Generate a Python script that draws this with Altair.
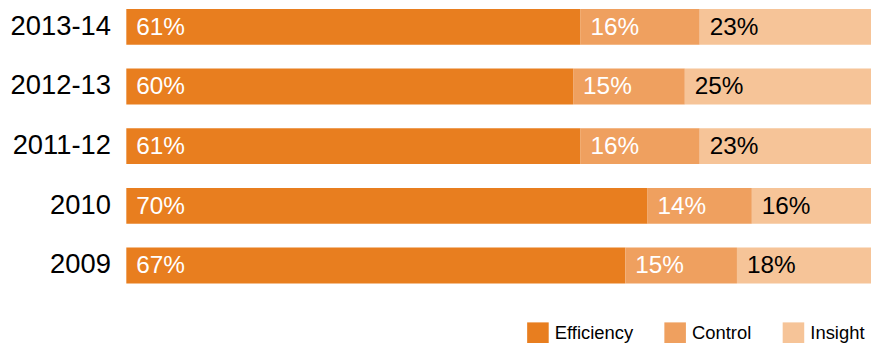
import altair as alt
import pandas as pd

years = ["2013-14", "2012-13", "2011-12", "2010", "2009"]
categories = ["Efficiency", "Control", "Insight"]
efficiency = [61, 60, 61, 70, 67]
control = [16, 15, 16, 14, 15]
insight = [23, 25, 23, 16, 18]
colors = ["#E87E1F", "#EFA05F", "#F6C498"]

rows = []
for i, y in enumerate(years):
    for j, (c, vals) in enumerate(zip(categories, [efficiency, control, insight])):
        rows.append({"year": y, "category": c, "order": j, "value": vals[i]})
df = pd.DataFrame(rows)

FONT = "Liberation Sans"

base = alt.Chart(df).transform_stack(
    stack="value", as_=["x0", "x1"], groupby=["year"],
    sort=[alt.SortField("order", order="ascending")]
)

y_enc = alt.Y("year:N", sort=years, title=None,
              scale=alt.Scale(paddingInner=0.4, paddingOuter=0),
              axis=alt.Axis(domain=False, ticks=False, labelFontSize=27.5,
                            labelColor="#000", labelFont=FONT, labelPadding=16))

bars = base.mark_bar().encode(
    y=y_enc,
    x=alt.X("x0:Q", scale=alt.Scale(domain=[0, 100]), axis=None),
    x2="x1:Q",
    color=alt.Color("category:N",
                    scale=alt.Scale(domain=categories, range=colors),
                    legend=alt.Legend(title=None, orient="none", direction="horizontal",
                                      legendX=403, legendY=315,
                                      symbolType="square", symbolSize=470,
                                      symbolStrokeWidth=0, symbolOpacity=1,
                                      labelFontSize=18.5, labelFont=FONT, labelColor="#000",
                                      labelOffset=6, columnPadding=31, padding=0)),
)

labels = base.mark_text(align="left", baseline="middle", dx=10, dy=1, fontSize=24.5,
                        font=FONT).encode(
    y=alt.Y("year:N", sort=years),
    x=alt.X("x0:Q"),
    text=alt.Text("label:N"),
    color=alt.condition(alt.datum.category == "Insight", alt.value("#000000"), alt.value("#FFFFFF")),
).transform_calculate(label="datum.value + '%'")

chart = alt.layer(bars, labels).properties(
    width=749, height=276,
    autosize=alt.AutoSizeParams(type="none"),
    padding={"left": 119, "top": 0, "right": 0, "bottom": 60},
).configure_view(stroke=None)

chart.save("out.html", embed_options={"renderer": "svg", "actions": False})
